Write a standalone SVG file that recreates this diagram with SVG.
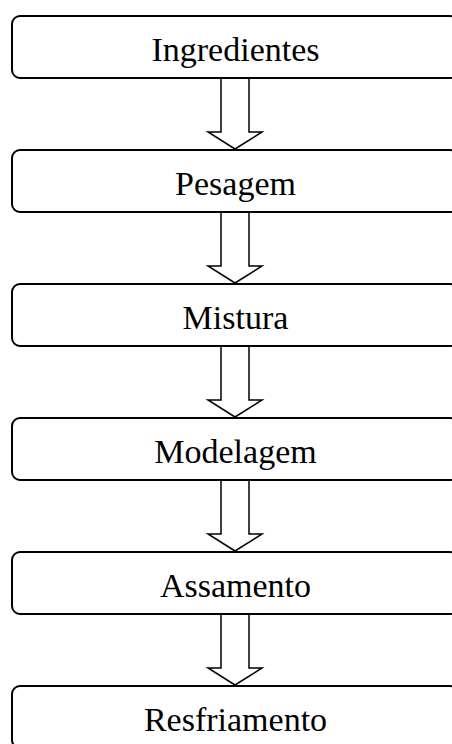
<svg xmlns="http://www.w3.org/2000/svg" width="452" height="744" viewBox="0 0 452 744">
<style>
.box{fill:#fff;stroke:#000;stroke-width:2}
.lbl{font-family:"Liberation Serif","Times New Roman",serif;font-size:34px;fill:#000;text-anchor:middle}
.arr{fill:#fff;stroke:#000;stroke-width:1.5;stroke-linejoin:miter}
</style>
<defs>
<path id="ar" class="arr" d="M221,0 V54 H208 L235,71 L262,54 H249 V0"/>
</defs>
<g id="connectors">
<use href="#ar" y="78"/>
<use href="#ar" y="212"/>
<use href="#ar" y="346"/>
<use href="#ar" y="480"/>
<use href="#ar" y="614"/>
</g>
<g id="n1"><rect class="box" x="12" y="16" width="446" height="62" rx="8"/><text class="lbl" x="235.5" y="61">Ingredientes</text></g>
<g id="n2"><rect class="box" x="12" y="150" width="446" height="62" rx="8"/><text class="lbl" x="235.5" y="195">Pesagem</text></g>
<g id="n3"><rect class="box" x="12" y="284" width="446" height="62" rx="8"/><text class="lbl" x="235.5" y="329">Mistura</text></g>
<g id="n4"><rect class="box" x="12" y="418" width="446" height="62" rx="8"/><text class="lbl" x="235.5" y="463">Modelagem</text></g>
<g id="n5"><rect class="box" x="12" y="552" width="446" height="62" rx="8"/><text class="lbl" x="235.5" y="597">Assamento</text></g>
<g id="n6"><rect class="box" x="12" y="686" width="446" height="62" rx="8"/><text class="lbl" x="235.5" y="731">Resfriamento</text></g>
</svg>
